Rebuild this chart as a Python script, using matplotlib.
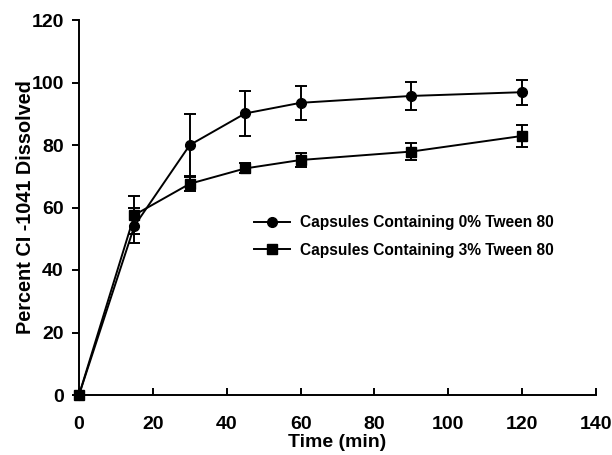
import matplotlib
matplotlib.use("Agg")
import matplotlib.pyplot as plt

time = [0, 15, 30, 45, 60, 90, 120]
tween0 = [0, 54.1, 80.0, 90.1, 93.5, 95.7, 96.9]
tween0_err = [0, 5.6, 10.0, 7.3, 5.5, 4.4, 4.0]
tween3 = [0, 57.6, 67.6, 72.5, 75.2, 77.9, 82.9]
tween3_err = [0, 6.2, 2.3, 1.6, 2.3, 2.7, 3.6]
labels = ["Capsules Containing 0% Tween 80", "Capsules Containing 3% Tween 80"]
xticks = [0, 20, 40, 60, 80, 100, 120, 140]
yticks = [0, 20, 40, 60, 80, 100, 120]

plt.rcParams['font.family'] = ['Liberation Sans', 'DejaVu Sans']
plt.rcParams['font.weight'] = 'bold'

fig = plt.figure(figsize=(6.12, 4.55), dpi=100)
ax = fig.add_axes([79/612, 1-395/455, (596-79)/612, (395-20)/455])

eb0 = ax.errorbar(time, tween0, yerr=tween0_err, color='black', marker='o', markersize=7,
                  linewidth=1.4, elinewidth=1.4, capsize=4, capthick=1.4, clip_on=False)
eb3 = ax.errorbar(time, tween3, yerr=tween3_err, color='black', marker='s', markersize=6.5,
                  linewidth=1.4, elinewidth=1.4, capsize=4, capthick=1.4, clip_on=False)

ax.set_xlim(0, 140)
ax.set_ylim(0, 120)
ax.set_xticks(xticks)
ax.set_yticks(yticks)
for s in ['top', 'right']:
    ax.spines[s].set_visible(False)
for s in ['left', 'bottom']:
    ax.spines[s].set_linewidth(1.4)
ax.tick_params(axis='y', direction='out', length=5, width=1.4, labelsize=14, pad=6)
ax.tick_params(axis='x', direction='in', length=5, width=1.4, labelsize=14, pad=15)
for lab in ax.get_xticklabels() + ax.get_yticklabels():
    lab.set_fontweight('bold')

ax.set_xlabel("Time (min)", fontsize=14, fontweight='bold', labelpad=0.5)
ax.set_ylabel("Percent CI -1041 Dissolved", fontsize=14.3, fontweight='bold', labelpad=-2.5)

leg = ax.legend([eb0[0], eb3[0]], labels, loc='center left',
                bbox_to_anchor=(0.3265, 0.4227), borderaxespad=0, frameon=False,
                handlelength=2.3, handletextpad=0.65, labelspacing=0.8,
                prop={'weight': 'bold', 'size': 11.2})

fig.savefig("out.png", dpi=100)
